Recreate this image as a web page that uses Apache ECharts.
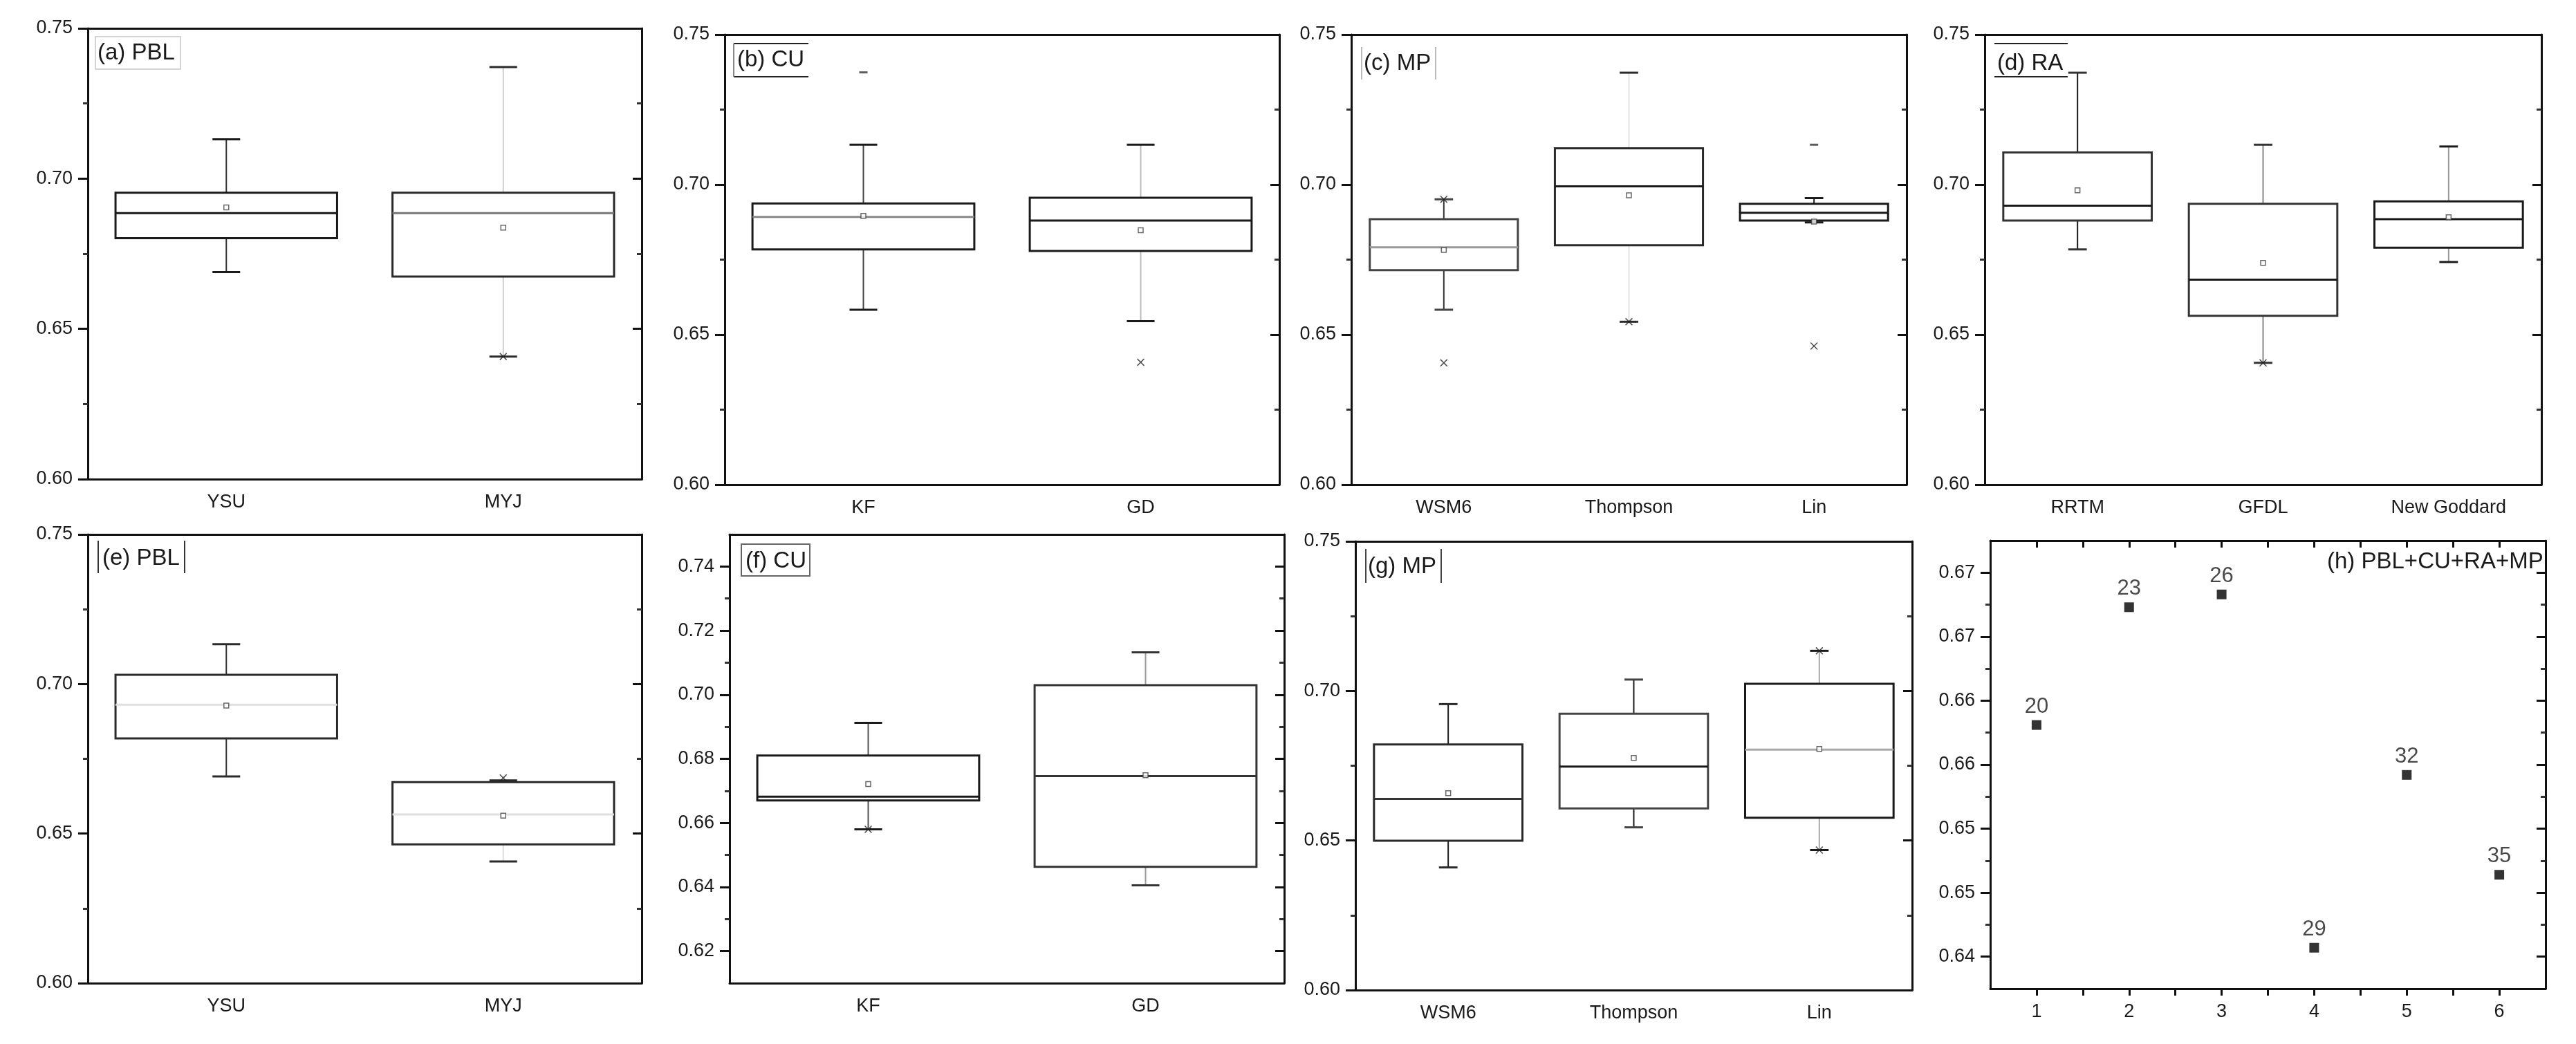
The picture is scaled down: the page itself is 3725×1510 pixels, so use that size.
<!DOCTYPE html>
<html>
<head>
<meta charset="utf-8">
<title>Box plots PBL / CU / MP / RA</title>
<script src="https://cdn.jsdelivr.net/npm/echarts@6/dist/echarts.min.js"></script>
<style>
html, body { margin: 0; padding: 0; background: #fff; }
#main { width: 3725px; height: 1510px; }
</style>
</head>
<body>
<div id="main"></div>
<script>
var myChart = echarts.init(document.getElementById('main'));

// categories
var catsPBL = ['YSU', 'MYJ'];
var catsCU = ['KF', 'GD'];
var catsMP = ['WSM6', 'Thompson', 'Lin'];
var catsRA = ['RRTM', 'GFDL', 'New Goddard'];

// box values: [lower whisker, Q1, median, Q3, upper whisker]
var boxA = [[0.6689, 0.6802, 0.6885, 0.6953, 0.7131], [0.6408, 0.6674, 0.6885, 0.6953, 0.7371]];
var meanA = [0.6904, 0.6837];
var crossA = [[1, 0.6408]];
var dashA = [];

var boxB = [[0.6583, 0.6784, 0.6892, 0.6937, 0.7133], [0.6545, 0.6779, 0.6880, 0.6956, 0.7133]];
var meanB = [0.6896, 0.6848];
var crossB = [[1, 0.6408]];
var dashB = [[0, 0.7374]];

var boxC = [[0.6583, 0.6715, 0.6791, 0.6885, 0.6951], [0.6543, 0.6798, 0.6994, 0.7121, 0.7373], [0.6874, 0.6880, 0.6906, 0.6936, 0.6955]];
var meanC = [0.6782, 0.6964, 0.6877];
var crossC = [[0, 0.6951], [0, 0.6406], [1, 0.6543], [2, 0.6462]];
var dashC = [[2, 0.7133]];

var boxD = [[0.6784, 0.6880, 0.6930, 0.7107, 0.7373], [0.6406, 0.6563, 0.6683, 0.6936, 0.7133], [0.6742, 0.6790, 0.6885, 0.6944, 0.7127]];
var meanD = [0.6981, 0.6739, 0.6891];
var crossD = [[1, 0.6406]];
var dashD = [];

var boxE = [[0.6691, 0.6818, 0.6931, 0.7031, 0.7133], [0.6407, 0.6464, 0.6564, 0.6672, 0.6678]];
var meanE = [0.6928, 0.6560];
var crossE = [[1, 0.6686]];
var dashE = [];

var boxF = [[0.6580, 0.6670, 0.6682, 0.6810, 0.6912], [0.6405, 0.6463, 0.6746, 0.7030, 0.7132]];
var meanF = [0.6721, 0.6749];
var crossF = [[0, 0.6580]];
var dashF = [];

var boxG = [[0.6410, 0.6499, 0.6639, 0.6821, 0.6956], [0.6544, 0.6607, 0.6747, 0.6924, 0.7038], [0.6468, 0.6576, 0.6804, 0.7024, 0.7134]];
var meanG = [0.6658, 0.6776, 0.6806];
var crossG = [[2, 0.7134], [2, 0.6468]];
var dashG = [];

// (h) combined runs
var runH = [1, 2, 3, 4, 5, 6];
var accH = [0.6581, 0.6673, 0.6683, 0.6407, 0.6542, 0.6464];
var runLabelsH = ['20', '23', '26', '29', '32', '35'];

// tick values / labels
var ticksMain = [0.60, 0.65, 0.70, 0.75];
var tickLabelsMain = ['0.60', '0.65', '0.70', '0.75'];
var minorMain = [0.625, 0.675, 0.725];
var ticksF = [0.62, 0.64, 0.66, 0.68, 0.70, 0.72, 0.74];
var tickLabelsF = ['0.62', '0.64', '0.66', '0.68', '0.70', '0.72', '0.74'];
var minorF = [0.63, 0.65, 0.67, 0.69, 0.71, 0.73];
var ticksH = [0.640, 0.645, 0.650, 0.655, 0.660, 0.665, 0.670];
var tickLabelsH = ['0.64', '0.65', '0.65', '0.66', '0.66', '0.67', '0.67'];
var minorH = [0.6425, 0.6475, 0.6525, 0.6575, 0.6625, 0.6675];
var xTicksH = [1, 1.5, 2, 2.5, 3, 3.5, 4, 4.5, 5, 5.5, 6];

var fontName = '"Liberation Sans", Arial, sans-serif';
var ink = '#1a1a1a';
var crossPath = 'path://M0,1L1,0L5,4L9,0L10,1L6,5L10,9L9,10L5,6L1,10L0,9L4,5Z';

// panel layout + look
var panels = [
    {title: '(a) PBL', cats: catsPBL, box: boxA, mean: meanA, cross: crossA, dash: dashA,
     ymin: 0.60, ymax: 0.75, ticks: ticksMain, tickLabels: tickLabelsMain, minor: minorMain,
     left: 127, top: 41, width: 801, height: 652, tx: 141, ty: 60,
     boxColor: ['#1a1a1a', '#2a2a2a'], whiskerColor: ['#333', '#cfcfcf'], medianColor: ['#1a1a1a', '#777']},
    {title: '(b) CU', cats: catsCU, box: boxB, mean: meanB, cross: crossB, dash: dashB,
     ymin: 0.60, ymax: 0.75, ticks: ticksMain, tickLabels: tickLabelsMain, minor: minorMain,
     left: 1048, top: 50, width: 802, height: 651, tx: 1066, ty: 70,
     boxColor: ['#1a1a1a', '#1a1a1a'], whiskerColor: ['#444', '#bbb'], medianColor: ['#888', '#1a1a1a']},
    {title: '(c) MP', cats: catsMP, box: boxC, mean: meanC, cross: crossC, dash: dashC,
     ymin: 0.60, ymax: 0.75, ticks: ticksMain, tickLabels: tickLabelsMain, minor: minorMain,
     left: 1954, top: 50, width: 803, height: 651, tx: 1972, ty: 75,
     boxColor: ['#444', '#2a2a2a', '#1a1a1a'], whiskerColor: ['#333', '#e2e2e2', '#1a1a1a'], medianColor: ['#999', '#1a1a1a', '#1a1a1a']},
    {title: '(d) RA', cats: catsRA, box: boxD, mean: meanD, cross: crossD, dash: dashD,
     ymin: 0.60, ymax: 0.75, ticks: ticksMain, tickLabels: tickLabelsMain, minor: minorMain,
     left: 2870, top: 50, width: 805, height: 651, tx: 2888, ty: 75,
     boxColor: ['#333', '#333', '#1a1a1a'], whiskerColor: ['#1a1a1a', '#888', '#999'], medianColor: ['#1a1a1a', '#1a1a1a', '#1a1a1a']},
    {title: '(e) PBL', cats: catsPBL, box: boxE, mean: meanE, cross: crossE, dash: dashE,
     ymin: 0.60, ymax: 0.75, ticks: ticksMain, tickLabels: tickLabelsMain, minor: minorMain,
     left: 127, top: 773, width: 801, height: 649, tx: 148, ty: 791,
     boxColor: ['#2a2a2a', '#2a2a2a'], whiskerColor: ['#333', '#ddd'], medianColor: ['#e0e0e0', '#e0e0e0']},
    {title: '(f) CU', cats: catsCU, box: boxF, mean: meanF, cross: crossF, dash: dashF,
     ymin: 0.61, ymax: 0.75, ticks: ticksF, tickLabels: tickLabelsF, minor: minorF,
     left: 1055, top: 773, width: 802, height: 649, tx: 1078, ty: 795,
     boxColor: ['#1a1a1a', '#333'], whiskerColor: ['#555', '#999'], medianColor: ['#1a1a1a', '#333']},
    {title: '(g) MP', cats: catsMP, box: boxG, mean: meanG, cross: crossG, dash: dashG,
     ymin: 0.60, ymax: 0.75, ticks: ticksMain, tickLabels: tickLabelsMain, minor: minorMain,
     left: 1960, top: 783, width: 805, height: 649, tx: 1978, ty: 803,
     boxColor: ['#2a2a2a', '#444', '#1a1a1a'], whiskerColor: ['#1a1a1a', '#1a1a1a', '#aaa'], medianColor: ['#333', '#1a1a1a', '#aaa']},
    {title: '(h) PBL+CU+RA+MP', scatter: true,
     ymin: 0.6375, ymax: 0.6725, ticks: ticksH, tickLabels: tickLabelsH, minor: minorH,
     left: 2878, top: 782, width: 803, height: 648, tx: 3365, ty: 796}
];

// little frames around the panel labels (as in the original figure)
var frames = [
    {type: 'rect', shape: {x: 138, y: 53, width: 123, height: 47}, style: {fill: 'none', stroke: '#d4d4d4', lineWidth: 2}},
    {type: 'line', shape: {x1: 1061, y1: 63, x2: 1169, y2: 63}, style: {stroke: '#222', lineWidth: 2}},
    {type: 'line', shape: {x1: 1061, y1: 111, x2: 1169, y2: 111}, style: {stroke: '#222', lineWidth: 2}},
    {type: 'line', shape: {x1: 1061, y1: 63, x2: 1061, y2: 111}, style: {stroke: '#888', lineWidth: 2}},
    {type: 'line', shape: {x1: 1969, y1: 68, x2: 1969, y2: 115}, style: {stroke: '#bbb', lineWidth: 2}},
    {type: 'line', shape: {x1: 2076, y1: 68, x2: 2076, y2: 115}, style: {stroke: '#bbb', lineWidth: 2}},
    {type: 'line', shape: {x1: 2884, y1: 63, x2: 2990, y2: 63}, style: {stroke: '#222', lineWidth: 2}},
    {type: 'line', shape: {x1: 2884, y1: 111, x2: 2990, y2: 111}, style: {stroke: '#222', lineWidth: 2}},
    {type: 'line', shape: {x1: 142, y1: 782, x2: 142, y2: 829}, style: {stroke: '#333', lineWidth: 2}},
    {type: 'line', shape: {x1: 267, y1: 782, x2: 267, y2: 829}, style: {stroke: '#333', lineWidth: 2}},
    {type: 'rect', shape: {x: 1072, y: 787, width: 99, height: 46}, style: {fill: 'none', stroke: '#666', lineWidth: 2}},
    {type: 'line', shape: {x1: 1975, y1: 794, x2: 1975, y2: 843}, style: {stroke: '#444', lineWidth: 2}},
    {type: 'line', shape: {x1: 2084, y1: 794, x2: 2084, y2: 843}, style: {stroke: '#444', lineWidth: 2}}
];

function tickFormatter(ticks, labels) {
    return function (v) {
        for (var i = 0; i < ticks.length; i++) {
            if (Math.abs(ticks[i] - v) < 1e-7) return labels[i];
        }
        return '';
    };
}

// box drawn through the axis scales (narrow whisker caps like the original)
function boxRenderer(p) {
    return function (params, api) {
        var i = api.value(0);
        var lo = api.coord([i, api.value(1)]);
        var q1 = api.coord([i, api.value(2)]);
        var md = api.coord([i, api.value(3)]);
        var q3 = api.coord([i, api.value(4)]);
        var hi = api.coord([i, api.value(5)]);
        var band = api.size([1, 0])[0];
        var cx = md[0], hw = band * 0.4, cw = band * 0.05;
        var bc = p.boxColor[params.dataIndex];
        var wc = p.whiskerColor[params.dataIndex];
        var mc = p.medianColor[params.dataIndex];
        return {
            type: 'group',
            children: [
                {type: 'line', shape: {x1: cx, y1: q3[1], x2: cx, y2: hi[1]}, style: {stroke: wc, lineWidth: 2}},
                {type: 'line', shape: {x1: cx, y1: q1[1], x2: cx, y2: lo[1]}, style: {stroke: wc, lineWidth: 2}},
                {type: 'line', shape: {x1: cx - cw, y1: hi[1], x2: cx + cw, y2: hi[1]}, style: {stroke: bc, lineWidth: 3}},
                {type: 'line', shape: {x1: cx - cw, y1: lo[1], x2: cx + cw, y2: lo[1]}, style: {stroke: bc, lineWidth: 3}},
                {type: 'rect', shape: {x: cx - hw, y: q3[1], width: hw * 2, height: q1[1] - q3[1]},
                 style: {fill: '#fff', stroke: bc, lineWidth: 3}},
                {type: 'line', shape: {x1: cx - hw, y1: md[1], x2: cx + hw, y2: md[1]}, style: {stroke: mc, lineWidth: 3}}
            ]
        };
    };
}

var grids = [], xAxes = [], yAxes = [], series = [], titles = [];
var axisLineStyle = {color: '#111', width: 3};

panels.forEach(function (p, k) {
    grids.push({left: p.left, top: p.top, width: p.width, height: p.height,
                containLabel: false, outerBoundsMode: 'none'});
    titles.push({text: p.title, left: p.tx, top: p.ty, padding: 0,
                 textStyle: {fontFamily: fontName, fontSize: 33, fontWeight: 'normal', color: ink}});

    if (p.scatter) {
        xAxes.push({
            gridIndex: k, type: 'value', position: 'bottom', min: 0.5, max: 6.5,
            axisLine: {onZero: false, lineStyle: axisLineStyle},
            axisTick: {inside: false, length: 10, customValues: xTicksH, lineStyle: {color: '#111', width: 3}},
            axisLabel: {customValues: runH, margin: 20, fontFamily: fontName, fontSize: 27, color: ink},
            splitLine: {show: false}
        });
        xAxes.push({
            gridIndex: k, type: 'value', position: 'top', min: 0.5, max: 6.5,
            axisLine: {onZero: false, lineStyle: axisLineStyle},
            axisTick: {inside: true, length: 10, customValues: xTicksH, lineStyle: {color: '#111', width: 3}},
            axisLabel: {show: false}, splitLine: {show: false}
        });
    } else {
        xAxes.push({
            gridIndex: k, type: 'category', data: p.cats, position: 'bottom', boundaryGap: true,
            axisLine: {onZero: false, lineStyle: axisLineStyle},
            axisTick: {alignWithLabel: true, inside: false, length: 14, lineStyle: {color: '#111', width: 3}},
            axisLabel: {margin: 20, fontFamily: fontName, fontSize: 27, color: ink},
            splitLine: {show: false}
        });
        xAxes.push({
            gridIndex: k, type: 'category', data: p.cats, position: 'top', boundaryGap: true,
            axisLine: {onZero: false, lineStyle: axisLineStyle},
            axisTick: {alignWithLabel: true, inside: true, length: 12, lineStyle: {color: '#111', width: 3}},
            axisLabel: {show: false}, splitLine: {show: false}
        });
    }

    // left major, left minor, right major, right minor
    yAxes.push({
        gridIndex: k, type: 'value', position: 'left', min: p.ymin, max: p.ymax,
        axisLine: {show: true, onZero: false, lineStyle: axisLineStyle},
        axisTick: {show: true, inside: false, length: 14, customValues: p.ticks, lineStyle: {color: '#111', width: 3}},
        axisLabel: {customValues: p.ticks, formatter: tickFormatter(p.ticks, p.tickLabels), margin: 22,
                    fontFamily: fontName, fontSize: 27, color: ink},
        splitLine: {show: false}
    });
    yAxes.push({
        gridIndex: k, type: 'value', position: 'left', min: p.ymin, max: p.ymax,
        axisLine: {show: false},
        axisTick: {show: true, inside: false, length: 7, customValues: p.minor, lineStyle: {color: '#333', width: 3}},
        axisLabel: {show: false}, splitLine: {show: false}
    });
    yAxes.push({
        gridIndex: k, type: 'value', position: 'right', min: p.ymin, max: p.ymax,
        axisLine: {show: true, onZero: false, lineStyle: axisLineStyle},
        axisTick: {show: true, inside: true, length: 13, customValues: p.ticks, lineStyle: {color: '#111', width: 3}},
        axisLabel: {show: false}, splitLine: {show: false}
    });
    yAxes.push({
        gridIndex: k, type: 'value', position: 'right', min: p.ymin, max: p.ymax,
        axisLine: {show: false},
        axisTick: {show: true, inside: true, length: 7, customValues: p.minor, lineStyle: {color: '#333', width: 3}},
        axisLabel: {show: false}, splitLine: {show: false}
    });

    var xi = 2 * k, yi = 4 * k;

    if (p.scatter) {
        series.push({
            type: 'scatter', xAxisIndex: xi, yAxisIndex: yi,
            data: runH.map(function (r, i) { return [r, accH[i]]; }),
            symbol: 'rect', symbolSize: 14,
            itemStyle: {color: '#000'},
            label: {
                show: true, position: 'top', distance: 4,
                fontFamily: fontName, fontSize: 31, color: ink,
                formatter: function (params) { return runLabelsH[params.dataIndex]; }
            }
        });
        return;
    }

    series.push({
        type: 'custom', xAxisIndex: xi, yAxisIndex: yi,
        renderItem: boxRenderer(p),
        encode: {x: 0, y: [1, 2, 3, 4, 5]},
        data: p.box.map(function (b, i) { return [i].concat(b); }),
        z: 2
    });
    series.push({
        type: 'scatter', xAxisIndex: xi, yAxisIndex: yi,
        data: p.mean.map(function (v, i) { return [i, v]; }),
        symbol: 'rect', symbolSize: 7,
        itemStyle: {color: '#fff', borderColor: '#444', borderWidth: 1.5},
        z: 5
    });
    series.push({
        type: 'scatter', xAxisIndex: xi, yAxisIndex: yi,
        data: p.cross, symbol: crossPath, symbolSize: 11,
        itemStyle: {color: '#222'}, z: 5
    });
    series.push({
        type: 'scatter', xAxisIndex: xi, yAxisIndex: yi,
        data: p.dash, symbol: 'rect', symbolSize: [12, 3],
        itemStyle: {color: '#333'}, z: 5
    });
});

var option = {
    backgroundColor: '#fff',
    animation: false,
    title: titles,
    grid: grids,
    xAxis: xAxes,
    yAxis: yAxes,
    series: series,
    graphic: frames
};

myChart.setOption(option);
</script>
</body>
</html>
